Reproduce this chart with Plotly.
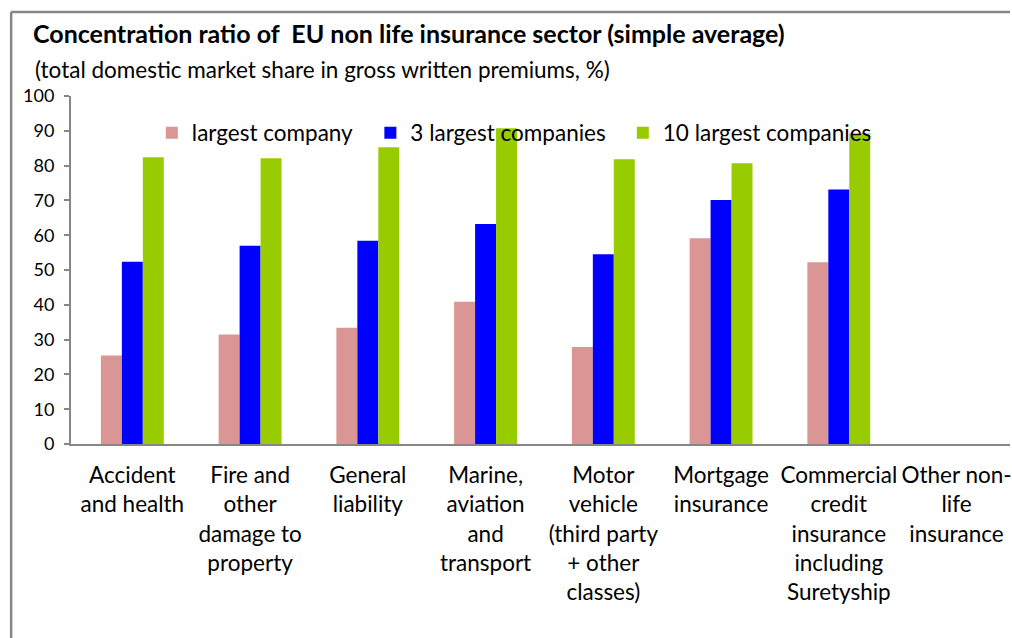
import plotly.graph_objects as go

# categories (line breaks as in the original axis labels)
categories = [
    "Accident<br>and health",
    "Fire and<br>other<br>damage to<br>property",
    "General<br>liability",
    "Marine,<br>aviation<br>and<br>transport",
    "Motor<br>vehicle<br>(third party<br>+ other<br>classes)",
    "Mortgage<br>insurance",
    "Commercial<br>credit<br>insurance<br>including<br>Suretyship",
    "Other non-<br>life<br>insurance",
]

# market share values, %
largest_company = [25.4, 31.5, 33.4, 40.9, 27.9, 59.1, 52.2, None]
largest_3 = [52.4, 57.0, 58.4, 63.2, 54.5, 70.1, 73.1, None]
largest_10 = [82.4, 82.1, 85.3, 90.7, 81.8, 80.7, 89.3, None]

y_ticks = [0, 10, 20, 30, 40, 50, 60, 70, 80, 90, 100]

FONT = "Lato, Calibri, Arial, sans-serif"
AXIS_GREY = "#868686"

series = [
    ("largest company", largest_company, "#D99694", "legend"),
    ("3 largest companies", largest_3, "#0000FF", "legend2"),
    ("10 largest companies", largest_10, "#99CC00", "legend3"),
]

fig = go.Figure()
for name, values, color, legend in series:
    fig.add_trace(go.Bar(
        x=categories,
        y=values,
        name=name,
        marker=dict(color=color, line=dict(width=0)),
        legend=legend,
    ))

legend_style = dict(
    orientation="h",
    yanchor="middle",
    y=0.8935,
    xanchor="left",
    bgcolor="rgba(0,0,0,0)",
    borderwidth=0,
    font=dict(family=FONT, size=22.5, color="#000000"),
)

fig.update_layout(
    width=1012,
    height=638,
    margin=dict(l=71, r=0, t=96, b=194),
    paper_bgcolor="white",
    plot_bgcolor="white",
    showlegend=True,
    barmode="group",
    bargap=0.466,
    bargroupgap=0,
    font=dict(family=FONT, color="#000000"),
    title=dict(
        text="<b>Concentration ratio of  EU non life insurance sector (simple average)</b>",
        x=33 / 1012,
        xanchor="left",
        xref="container",
        y=1 - 34 / 638,
        yanchor="middle",
        yref="container",
        font=dict(family=FONT, size=25, color="#000000"),
    ),
    legend=dict(legend_style, x=(152 - 71) / 941),
    legend2=dict(legend_style, x=(371 - 71) / 941),
    legend3=dict(legend_style, x=(624 - 71) / 941),
    xaxis=dict(
        type="category",
        range=[-0.521, 7.454],
        showline=True,
        linecolor=AXIS_GREY,
        linewidth=2,
        ticks="",
        showgrid=False,
        tickfont=dict(family=FONT, size=22.5, color="#000000"),
        tickangle=0,
        ticklabelstandoff=10,
    ),
    yaxis=dict(
        range=[0, 100],
        tickvals=y_ticks,
        showline=True,
        linecolor=AXIS_GREY,
        linewidth=2,
        ticks="outside",
        ticklen=5,
        tickwidth=1.5,
        tickcolor=AXIS_GREY,
        showgrid=False,
        zeroline=False,
        ticklabelstandoff=6,
        tickfont=dict(family=FONT, size=18, color="#000000"),
    ),
)

# subtitle
fig.add_annotation(
    text="(total domestic market share in gross written premiums, %)",
    xref="paper", yref="paper",
    x=(33 - 71) / 941, y=(443.5 - 69.5) / 347.5,
    xanchor="left", yanchor="middle",
    showarrow=False,
    font=dict(family=FONT, size=22.5, color="#000000"),
)

# chart frame: only its left and top edges fall inside the crop
frame_left = (11 - 71) / 941
frame_top = (443.5 - 12) / 347.5
fig.add_shape(type="line", xref="paper", yref="paper",
              x0=frame_left, x1=frame_left, y0=frame_top, y1=-0.6,
              line=dict(color=AXIS_GREY, width=2.5))
fig.add_shape(type="line", xref="paper", yref="paper",
              x0=frame_left, x1=1.0, y0=frame_top, y1=frame_top,
              line=dict(color=AXIS_GREY, width=2.5))

# drop the default page margin so the figure sits at the window origin
fig.write_html(
    "out.html",
    config={"displayModeBar": False},
    post_script="document.body.style.margin='0';",
)
